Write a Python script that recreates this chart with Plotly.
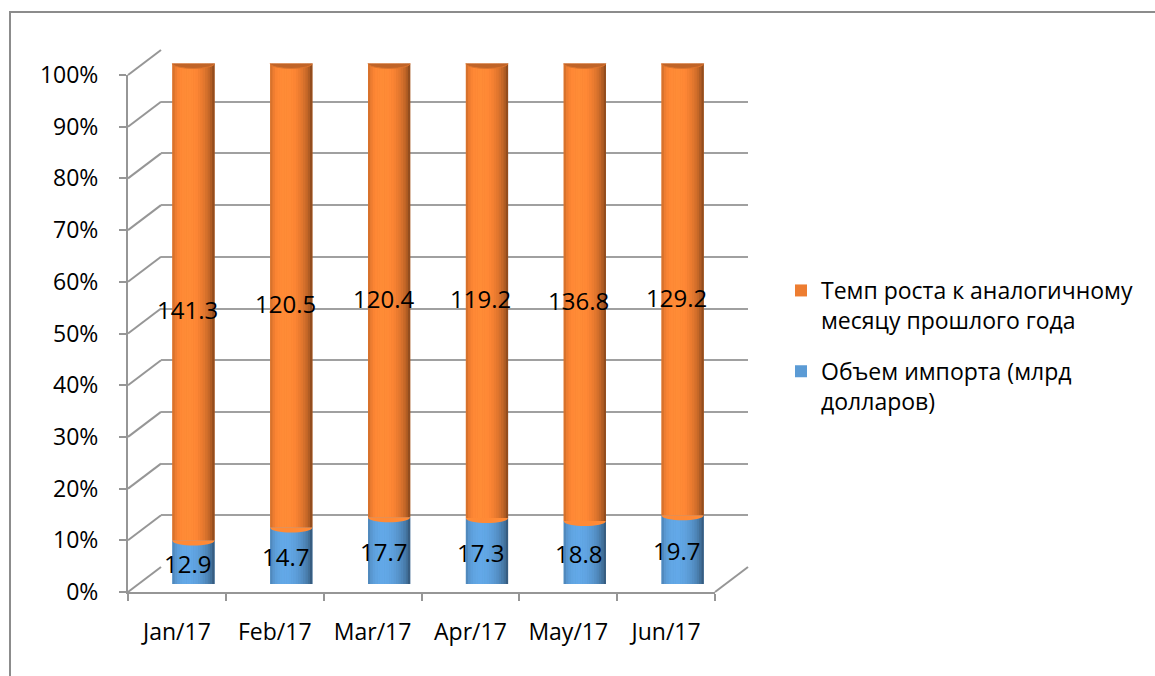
import math
import plotly.graph_objects as go

# ---------------- data ----------------
months = ["Jan/17", "Feb/17", "Mar/17", "Apr/17", "May/17", "Jun/17"]
import_volume = [12.9, 14.7, 17.7, 17.3, 18.8, 19.7]       # Объем импорта (млрд долларов)
growth_rate = [141.3, 120.5, 120.4, 119.2, 136.8, 129.2]    # Темп роста к аналогичному месяцу прошлого года
name_import = "Объем импорта (млрд<br>долларов)"
name_growth = "Темп роста к аналогичному<br>месяцу прошлого года"
y_ticks = list(range(0, 101, 10))

# ---------------- layout geometry (pixels) ----------------
W, H = 1155, 676
FONT = "Open Sans"
front_x0, front_x1 = 128, 715
front_y0, front_y100 = 592, 75
DX, DY = 33, -25          # depth offset of the back wall
bar_y0, bar_y100 = 584, 63.5

def px(x):
    return x / W

def py(y):
    return 1 - y / H

totals = [a + b for a, b in zip(import_volume, growth_rate)]
pct_import = [a / t * 100 for a, t in zip(import_volume, totals)]
pct_growth = [b / t * 100 for b, t in zip(growth_rate, totals)]
xpos = list(range(len(months)))
BW = 0.43

ORANGE = (237, 125, 49)
BLUE = (91, 155, 213)

def shade(rgb, f, base_gain):
    x = 2 * f - 1
    nz = math.sqrt(max(0.0, 1 - x * x))
    lx, lz = -0.3, 0.95
    inten = 0.58 + 0.49 * max(0.0, x * lx + nz * lz)
    c = [min(255, int(v * inten * base_gain)) for v in rgb]
    return "rgb(%d,%d,%d)" % tuple(c)

fig = go.Figure()

# back wall (grid) subplot: xaxis / yaxis
fig.add_trace(go.Scatter(x=xpos, y=pct_import, mode="markers", marker=dict(opacity=0),
                         hoverinfo="skip", showlegend=False, xaxis="x", yaxis="y"))

# main bars (legend entries)
fig.add_trace(go.Bar(x=xpos, y=pct_import, base=[0] * 6, width=BW, name=name_import,
                     marker=dict(color="rgb(%d,%d,%d)" % BLUE, line=dict(width=0)),
                     xaxis="x2", yaxis="y2", legendrank=2, legendgroup="imp", hoverinfo="skip"))
fig.add_trace(go.Bar(x=xpos, y=pct_growth, base=pct_import, width=BW, name=name_growth,
                     marker=dict(color="rgb(%d,%d,%d)" % ORANGE, line=dict(width=0)),
                     xaxis="x2", yaxis="y2", legendrank=1, legendgroup="gr", hoverinfo="skip"))

# cylinder shading strips
N = 18
sw = BW / N
for k in range(N):
    f = (k + 0.5) / N
    off = -BW / 2 + k * sw
    fig.add_trace(go.Bar(x=xpos, y=pct_import, base=[0] * 6, width=sw * 1.08, offset=off,
                         marker=dict(color=shade(BLUE, f, 1.02), line=dict(width=0)),
                         xaxis="x2", yaxis="y2", showlegend=False, hoverinfo="skip"))
    fig.add_trace(go.Bar(x=xpos, y=pct_growth, base=pct_import, width=sw * 1.08, offset=off,
                         marker=dict(color=shade(ORANGE, f, 1.05), line=dict(width=0)),
                         xaxis="x2", yaxis="y2", showlegend=False, hoverinfo="skip"))

# front axes subplot: xaxis3 / yaxis3
fig.add_trace(go.Scatter(x=months, y=pct_import, mode="markers", marker=dict(opacity=0),
                         hoverinfo="skip", showlegend=False, xaxis="x3", yaxis="y3"))

shapes = []
unit_px = (front_y0 - front_y100) / 100.0
bar_unit = (bar_y0 - bar_y100) / 100.0
r_y = 5.0 / bar_unit   # ellipse half-height in data units
k43 = 4.0 / 3.0
for i, (pb, pg) in enumerate(zip(pct_import, pct_growth)):
    xl, xr = i - BW / 2, i + BW / 2
    # rounded bottom (lower half ellipse)
    shapes.append(dict(type="path", xref="x2", yref="y2", layer="above",
                       path="M %f,0 C %f,%f %f,%f %f,0 Z" % (xl, xl, -k43 * r_y, xr, -k43 * r_y, xr),
                       fillcolor=shade(BLUE, 0.45, 1.0), line=dict(width=0)))
    # curved boundary between segments
    shapes.append(dict(type="path", xref="x2", yref="y2", layer="above",
                       path="M %f,%f C %f,%f %f,%f %f,%f Z" % (xl, pb, xl, pb - k43 * r_y, xr, pb - k43 * r_y, xr, pb),
                       fillcolor=shade(ORANGE, 0.45, 1.05), line=dict(width=0)))
    # top cap
    top = pb + pg
    shapes.append(dict(type="circle", xref="x2", yref="y2", layer="above",
                       x0=xl, x1=xr, y0=top - r_y, y1=top + r_y,
                       fillcolor="rgb(192,100,40)", line=dict(color="rgb(220,116,46)", width=1)))

# depth diagonals on the left wall
for v in y_ticks:
    yf = front_y0 - v * unit_px
    shapes.append(dict(type="line", xref="paper", yref="paper", layer="below",
                       x0=px(front_x0), y0=py(yf), x1=px(front_x0 + DX), y1=py(yf + DY),
                       line=dict(color="#969696", width=2)))
shapes.append(dict(type="line", xref="paper", yref="paper", layer="below",
                   x0=px(front_x1), y0=py(front_y0), x1=px(front_x1 + DX), y1=py(front_y0 + DY),
                   line=dict(color="#969696", width=2)))
# chart border
shapes.append(dict(type="rect", xref="paper", yref="paper", layer="below",
                   x0=px(10), y0=py(12), x1=1.02, y1=-0.02,
                   line=dict(color="#8c8c8c", width=2), fillcolor="rgba(0,0,0,0)"))

annotations = []
for i in range(len(months)):
    annotations.append(dict(x=i, y=pct_import[i] / 2, xref="x2", yref="y2",
                            text="%.1f" % import_volume[i], showarrow=False,
                            xshift=-6, yshift=-1, font=dict(family=FONT, size=24, color="black")))
    annotations.append(dict(x=i, y=pct_import[i] + pct_growth[i] / 2, xref="x2", yref="y2",
                            text="%.1f" % growth_rate[i], showarrow=False,
                            xshift=-6, yshift=-8, font=dict(family=FONT, size=24, color="black")))

fig.update_layout(
    width=W, height=H,
    margin=dict(l=0, r=0, t=0, b=0, pad=0, autoexpand=False),
    paper_bgcolor="white", plot_bgcolor="rgba(0,0,0,0)",
    barmode="overlay",
    font=dict(family=FONT, size=23, color="black"),
    shapes=shapes, annotations=annotations,
    xaxis=dict(domain=[px(front_x0 + DX), px(front_x1 + DX)], range=[-0.5, 5.5],
               showgrid=False, zeroline=False, showticklabels=False, showline=False,
               anchor="y", fixedrange=True, automargin=False),
    yaxis=dict(domain=[py(front_y0 + DY), py(front_y100 + DY)], range=[0, 100],
               tickvals=y_ticks, showgrid=True, gridcolor="#a0a0a0", gridwidth=2,
               zeroline=False, showticklabels=False, showline=False, anchor="x",
               fixedrange=True, automargin=False),
    xaxis2=dict(domain=[px(front_x0 + DX / 2), px(front_x1 + DX / 2)], range=[-0.5, 5.5],
                showgrid=False, zeroline=False, showticklabels=False, showline=False,
                anchor="y2", fixedrange=True, automargin=False),
    yaxis2=dict(domain=[py(bar_y0), py(bar_y100)], range=[0, 100],
                showgrid=False, zeroline=False, showticklabels=False, showline=False,
                anchor="x2", fixedrange=True, automargin=False),
    xaxis3=dict(domain=[px(front_x0), px(front_x1)], type="category",
                categoryarray=months, range=[-0.5, 5.5], tickson="boundaries",
                ticks="outside", ticklen=7, tickwidth=2, tickcolor="#969696",
                showline=True, linecolor="#969696", linewidth=2, showgrid=False,
                zeroline=False, anchor="y3", ticklabelstandoff=18, automargin=False,
                tickfont=dict(family=FONT, size=23, color="black"), fixedrange=True),
    yaxis3=dict(domain=[py(front_y0), py(front_y100)], range=[0, 100], tickvals=y_ticks,
                ticktext=["%d%%" % v for v in y_ticks],
                ticks="outside", ticklen=7, tickwidth=2, tickcolor="#969696",
                showline=True, linecolor="#969696", linewidth=2, showgrid=False,
                zeroline=False, anchor="x3", ticklabelstandoff=16, automargin=False,
                tickfont=dict(family=FONT, size=23, color="black"), fixedrange=True),
    legend=dict(x=px(781), y=py(269), xanchor="left", yanchor="top",
                font=dict(family=FONT, size=23, color="black"),
                valign="top", tracegroupgap=18, bgcolor="rgba(0,0,0,0)"),
    showlegend=True,
)

fig.write_html("out.html")
